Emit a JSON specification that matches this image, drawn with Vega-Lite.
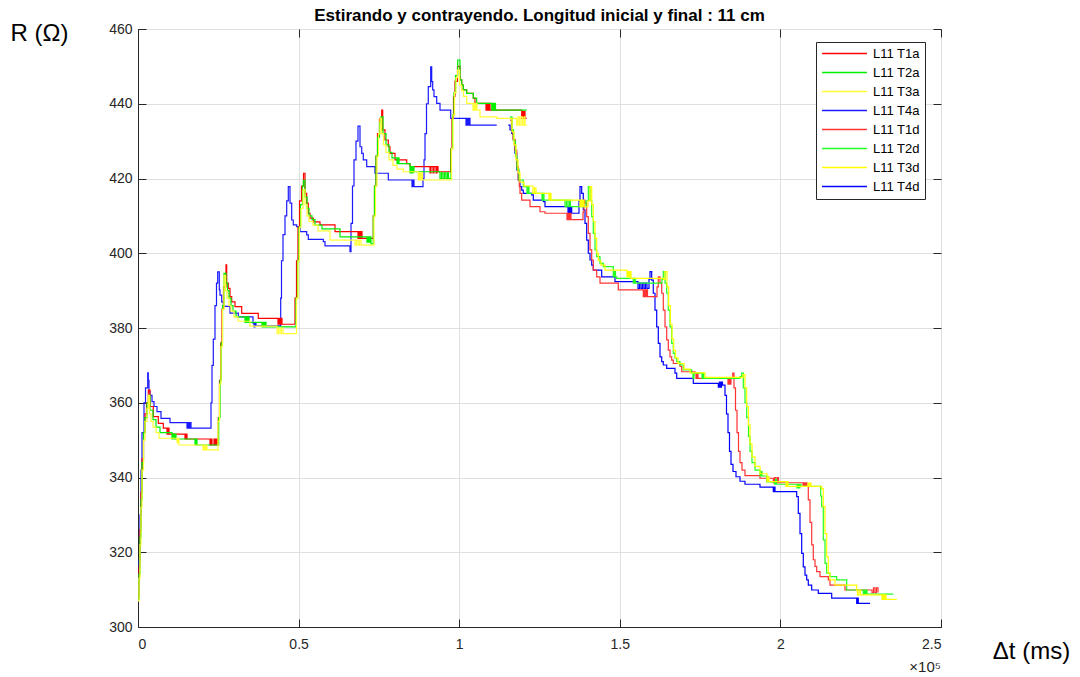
{
"$schema":"https://vega.github.io/schema/vega-lite/v6.json",
"autosize":"none",
"width":803,"height":598,
"padding":{"left":138,"top":29,"right":139,"bottom":50},
"background":"white",
"title":{"text":"Estirando y contrayendo. Longitud inicial y final : 11 cm","fontSize":17,"fontWeight":"bold","color":"#000000","anchor":"middle","offset":-3,"baseline":"alphabetic","dy":14},
"config":{"font":"Liberation Sans","view":{"stroke":"#262626","strokeWidth":1},
"axis":{"domainColor":"#262626","tickColor":"#262626","labelColor":"#262626","labelFontSize":14,"gridColor":"#dfdfdf","tickSize":-8,"labelPadding":14,"titleFontWeight":"normal","titleColor":"#000000","titleFontSize":24},
"legend":{"orient":"none","legendX":678,"legendY":13,"symbolType":"M-4,0L4,0","symbolSize":126,"symbolOffset":17,"symbolStrokeWidth":1.5,"labelFontSize":13,"labelColor":"#000000","strokeColor":"#262626","fillColor":"white","padding":5,"rowPadding":5,"labelOffset":22,"labelLimit":0}},
"resolve":{"axis":{"x":"independent","y":"independent"}},
"layer":[
{"data":{"values":[
{"s":"T4a","t":0,"R":310},{"s":"T4a","t":311,"R":318},{"s":"T4a","t":623,"R":330},{"s":"T4a","t":934,"R":342},{"s":"T4a","t":1245,"R":352},{"s":"T4a","t":1868,"R":360},{"s":"T4a","t":2335,"R":364},{"s":"T4a","t":3020,"R":368},{"s":"T4a","t":3207,"R":366},{"s":"T4a","t":3425,"R":363},{"s":"T4a","t":3736,"R":362},{"s":"T4a","t":4359,"R":360.3},{"s":"T4a","t":4981,"R":359},{"s":"T4a","t":5915,"R":357.6},{"s":"T4a","t":7161,"R":355.8},{"s":"T4a","t":9963,"R":354.7},{"s":"T4a","t":15255,"R":353.2},{"s":"T4a","t":15567,"R":354.7},{"s":"T4a","t":15878,"R":353.2},{"s":"T4a","t":16189,"R":354.7},{"s":"T4a","t":16500,"R":353.2},{"s":"T4a","t":22727,"R":360},{"s":"T4a","t":23038,"R":370},{"s":"T4a","t":23443,"R":377},{"s":"T4a","t":23972,"R":386},{"s":"T4a","t":24439,"R":392},{"s":"T4a","t":24813,"R":395},{"s":"T4a","t":25311,"R":390.2},{"s":"T4a","t":25529,"R":388.8},{"s":"T4a","t":26058,"R":387},{"s":"T4a","t":26556,"R":385.8},{"s":"T4a","t":28642,"R":384},{"s":"T4a","t":31226,"R":383},{"s":"T4a","t":35803,"R":381.3},{"s":"T4a","t":36114,"R":380.3},{"s":"T4a","t":36426,"R":381.3},{"s":"T4a","t":36737,"R":380.6},{"s":"T4a","t":44427,"R":388},{"s":"T4a","t":44676,"R":398},{"s":"T4a","t":45143,"R":405},{"s":"T4a","t":45766,"R":410},{"s":"T4a","t":46295,"R":414},{"s":"T4a","t":46793,"R":417.8},{"s":"T4a","t":47322,"R":413.4},{"s":"T4a","t":47851,"R":408.9},{"s":"T4a","t":48350,"R":407.6},{"s":"T4a","t":49408,"R":407.1},{"s":"T4a","t":50435,"R":405.8},{"s":"T4a","t":52521,"R":404.9},{"s":"T4a","t":53020,"R":403.7},{"s":"T4a","t":57689,"R":403.1},{"s":"T4a","t":58219,"R":402},{"s":"T4a","t":66002,"R":400.4},{"s":"T4a","t":66313,"R":408},{"s":"T4a","t":66780,"R":418},{"s":"T4a","t":67247,"R":425},{"s":"T4a","t":67870,"R":430},{"s":"T4a","t":68493,"R":434},{"s":"T4a","t":69115,"R":428.5},{"s":"T4a","t":69645,"R":426.7},{"s":"T4a","t":70143,"R":425},{"s":"T4a","t":71201,"R":423.2},{"s":"T4a","t":73785,"R":421.4},{"s":"T4a","t":77926,"R":419.6},{"s":"T4a","t":85304,"R":417.8},{"s":"T4a","t":85616,"R":419.6},{"s":"T4a","t":85927,"R":417.8},{"s":"T4a","t":88729,"R":420},{"s":"T4a","t":89040,"R":425},{"s":"T4a","t":89352,"R":432},{"s":"T4a","t":89819,"R":440},{"s":"T4a","t":90379,"R":444.6},{"s":"T4a","t":91126,"R":449.9},{"s":"T4a","t":91438,"R":445.9},{"s":"T4a","t":91749,"R":443.7},{"s":"T4a","t":92154,"R":441.9},{"s":"T4a","t":92994,"R":440.1},{"s":"T4a","t":94022,"R":438.3},{"s":"T4a","t":97353,"R":436.1},{"s":"T4a","t":102116,"R":434.3},{"s":"T4a","t":102428,"R":436.1},{"s":"T4a","t":102739,"R":434.3},{"s":"T4a","t":103050,"R":436.1},{"s":"T4a","t":103362,"R":434.3},{"s":"T4a","t":111674,"R":434.3},
{"s":"T1a","t":0,"R":308},{"s":"T1a","t":311,"R":316},{"s":"T1a","t":623,"R":326},{"s":"T1a","t":934,"R":336},{"s":"T1a","t":1245,"R":345},{"s":"T1a","t":1712,"R":352},{"s":"T1a","t":2179,"R":357},{"s":"T1a","t":2646,"R":360},{"s":"T1a","t":3207,"R":363.4},{"s":"T1a","t":3736,"R":359},{"s":"T1a","t":4763,"R":356.3},{"s":"T1a","t":6320,"R":354.5},{"s":"T1a","t":7877,"R":353.2},{"s":"T1a","t":9029,"R":351.6},{"s":"T1a","t":9340,"R":353.2},{"s":"T1a","t":9651,"R":351.6},{"s":"T1a","t":14633,"R":350.3},{"s":"T1a","t":14944,"R":351.6},{"s":"T1a","t":15255,"R":350.3},{"s":"T1a","t":22416,"R":348.7},{"s":"T1a","t":22727,"R":350.3},{"s":"T1a","t":23038,"R":348.7},{"s":"T1a","t":23661,"R":350.3},{"s":"T1a","t":23972,"R":348.7},{"s":"T1a","t":24284,"R":350.3},{"s":"T1a","t":24595,"R":348.7},{"s":"T1a","t":25000,"R":356},{"s":"T1a","t":25373,"R":366},{"s":"T1a","t":25747,"R":376},{"s":"T1a","t":26152,"R":385},{"s":"T1a","t":26619,"R":391},{"s":"T1a","t":27397,"R":396.9},{"s":"T1a","t":27615,"R":392},{"s":"T1a","t":28113,"R":390.6},{"s":"T1a","t":28642,"R":388.4},{"s":"T1a","t":29172,"R":387},{"s":"T1a","t":30199,"R":385.7},{"s":"T1a","t":32285,"R":383.9},{"s":"T1a","t":37453,"R":382.6},{"s":"T1a","t":43586,"R":381},{"s":"T1a","t":43898,"R":382.6},{"s":"T1a","t":44209,"R":381},{"s":"T1a","t":44520,"R":382.6},{"s":"T1a","t":44832,"R":381},{"s":"T1a","t":48879,"R":388},{"s":"T1a","t":49346,"R":398},{"s":"T1a","t":49813,"R":407},{"s":"T1a","t":50280,"R":414},{"s":"T1a","t":50902,"R":418},{"s":"T1a","t":51525,"R":421.4},{"s":"T1a","t":51992,"R":416},{"s":"T1a","t":52521,"R":413.4},{"s":"T1a","t":53020,"R":410.7},{"s":"T1a","t":53549,"R":409.4},{"s":"T1a","t":54576,"R":408.4},{"s":"T1a","t":56662,"R":407.6},{"s":"T1a","t":61332,"R":405.8},{"s":"T1a","t":68493,"R":404},{"s":"T1a","t":68804,"R":405.8},{"s":"T1a","t":69115,"R":404},{"s":"T1a","t":69427,"R":405.8},{"s":"T1a","t":69738,"R":404},{"s":"T1a","t":73256,"R":410},{"s":"T1a","t":73630,"R":418},{"s":"T1a","t":74097,"R":426},{"s":"T1a","t":74564,"R":432},{"s":"T1a","t":75186,"R":436},{"s":"T1a","t":75871,"R":438.3},{"s":"T1a","t":76182,"R":433},{"s":"T1a","t":76899,"R":430.3},{"s":"T1a","t":77926,"R":428.5},{"s":"T1a","t":78455,"R":426.7},{"s":"T1a","t":80012,"R":425},{"s":"T1a","t":83654,"R":424},{"s":"T1a","t":84682,"R":423.2},{"s":"T1a","t":90908,"R":421.5},{"s":"T1a","t":91220,"R":423.2},{"s":"T1a","t":91842,"R":421.5},{"s":"T1a","t":92154,"R":423.2},{"s":"T1a","t":92776,"R":421.5},{"s":"T1a","t":93088,"R":423.2},{"s":"T1a","t":93399,"R":421.8},{"s":"T1a","t":97353,"R":428},{"s":"T1a","t":97758,"R":436},{"s":"T1a","t":98225,"R":442},{"s":"T1a","t":98692,"R":446},{"s":"T1a","t":99470,"R":450},{"s":"T1a","t":100248,"R":446.4},{"s":"T1a","t":100777,"R":445},{"s":"T1a","t":101276,"R":443.7},{"s":"T1a","t":102334,"R":442.8},{"s":"T1a","t":104389,"R":441.5},{"s":"T1a","t":104918,"R":440.1},{"s":"T1a","t":108343,"R":438.3},{"s":"T1a","t":108654,"R":440.1},{"s":"T1a","t":108966,"R":438.3},{"s":"T1a","t":109277,"R":440.1},{"s":"T1a","t":109588,"R":438.3},{"s":"T1a","t":119457,"R":436.1},{"s":"T1a","t":119706,"R":437.9},{"s":"T1a","t":119955,"R":436.1},{"s":"T1a","t":120173,"R":437.9},{"s":"T1a","t":120485,"R":436.1},{"s":"T1a","t":121014,"R":436.1},
{"s":"T2a","t":0,"R":307.5},{"s":"T2a","t":311,"R":314},{"s":"T2a","t":623,"R":324},{"s":"T2a","t":934,"R":334},{"s":"T2a","t":1245,"R":344},{"s":"T2a","t":1712,"R":352},{"s":"T2a","t":2179,"R":356},{"s":"T2a","t":2802,"R":360},{"s":"T2a","t":3269,"R":362},{"s":"T2a","t":3736,"R":358},{"s":"T2a","t":4670,"R":355.5},{"s":"T2a","t":5604,"R":353.5},{"s":"T2a","t":6849,"R":352},{"s":"T2a","t":10585,"R":350.3},{"s":"T2a","t":10897,"R":351.6},{"s":"T2a","t":11208,"R":350.3},{"s":"T2a","t":11519,"R":351.6},{"s":"T2a","t":11831,"R":350.3},{"s":"T2a","t":17746,"R":348.7},{"s":"T2a","t":18057,"R":350.3},{"s":"T2a","t":18368,"R":348.7},{"s":"T2a","t":25124,"R":356},{"s":"T2a","t":25529,"R":366},{"s":"T2a","t":25903,"R":376},{"s":"T2a","t":26307,"R":386},{"s":"T2a","t":26774,"R":394.6},{"s":"T2a","t":27397,"R":392},{"s":"T2a","t":27864,"R":390},{"s":"T2a","t":28331,"R":388},{"s":"T2a","t":28954,"R":386},{"s":"T2a","t":29576,"R":384.5},{"s":"T2a","t":30510,"R":383},{"s":"T2a","t":33312,"R":381.5},{"s":"T2a","t":33624,"R":383},{"s":"T2a","t":33935,"R":381.5},{"s":"T2a","t":34246,"R":383},{"s":"T2a","t":34558,"R":381.5},{"s":"T2a","t":38605,"R":380.3},{"s":"T2a","t":38916,"R":381.5},{"s":"T2a","t":39228,"R":380.3},{"s":"T2a","t":39539,"R":381.5},{"s":"T2a","t":39850,"R":380.3},{"s":"T2a","t":49190,"R":388},{"s":"T2a","t":49657,"R":398},{"s":"T2a","t":50124,"R":407},{"s":"T2a","t":50591,"R":413},{"s":"T2a","t":51214,"R":418},{"s":"T2a","t":51463,"R":419.5},{"s":"T2a","t":51992,"R":415},{"s":"T2a","t":52615,"R":412},{"s":"T2a","t":53237,"R":410},{"s":"T2a","t":54171,"R":409},{"s":"T2a","t":55105,"R":407.5},{"s":"T2a","t":57285,"R":406.5},{"s":"T2a","t":62889,"R":404.4},{"s":"T2a","t":71295,"R":403},{"s":"T2a","t":71606,"R":404.4},{"s":"T2a","t":71917,"R":403},{"s":"T2a","t":72229,"R":404.4},{"s":"T2a","t":72540,"R":402.5},{"s":"T2a","t":73256,"R":410},{"s":"T2a","t":73630,"R":418},{"s":"T2a","t":74097,"R":426},{"s":"T2a","t":74564,"R":431},{"s":"T2a","t":75186,"R":435},{"s":"T2a","t":75653,"R":436.5},{"s":"T2a","t":76276,"R":432},{"s":"T2a","t":77210,"R":429},{"s":"T2a","t":78144,"R":427},{"s":"T2a","t":79078,"R":425.5},{"s":"T2a","t":80634,"R":424},{"s":"T2a","t":80946,"R":425.5},{"s":"T2a","t":81257,"R":424},{"s":"T2a","t":84682,"R":421.5},{"s":"T2a","t":84993,"R":423.2},{"s":"T2a","t":85304,"R":421.5},{"s":"T2a","t":85616,"R":423.2},{"s":"T2a","t":85927,"R":421.8},{"s":"T2a","t":94022,"R":420},{"s":"T2a","t":94489,"R":421.5},{"s":"T2a","t":94956,"R":420},{"s":"T2a","t":95423,"R":421.5},{"s":"T2a","t":95890,"R":420},{"s":"T2a","t":96357,"R":421.5},{"s":"T2a","t":96668,"R":420},{"s":"T2a","t":97446,"R":428},{"s":"T2a","t":97913,"R":437},{"s":"T2a","t":98380,"R":443},{"s":"T2a","t":98847,"R":447.5},{"s":"T2a","t":99532,"R":451.7},{"s":"T2a","t":100248,"R":446.4},{"s":"T2a","t":100777,"R":445},{"s":"T2a","t":101276,"R":443.7},{"s":"T2a","t":102334,"R":442.8},{"s":"T2a","t":104389,"R":441.5},{"s":"T2a","t":105448,"R":440.1},{"s":"T2a","t":110118,"R":438.3},{"s":"T2a","t":110366,"R":440.1},{"s":"T2a","t":110678,"R":438.3},{"s":"T2a","t":110989,"R":440.1},{"s":"T2a","t":111301,"R":438.3},{"s":"T2a","t":121014,"R":438.3},
{"s":"T3a","t":0,"R":307},{"s":"T3a","t":311,"R":313},{"s":"T3a","t":623,"R":322},{"s":"T3a","t":934,"R":332},{"s":"T3a","t":1245,"R":342},{"s":"T3a","t":1712,"R":350},{"s":"T3a","t":2179,"R":355},{"s":"T3a","t":2802,"R":358.5},{"s":"T3a","t":3207,"R":362},{"s":"T3a","t":3580,"R":357},{"s":"T3a","t":4047,"R":355},{"s":"T3a","t":4670,"R":353.5},{"s":"T3a","t":5604,"R":352},{"s":"T3a","t":6538,"R":350.5},{"s":"T3a","t":12142,"R":349.3},{"s":"T3a","t":12453,"R":350.5},{"s":"T3a","t":12765,"R":348.7},{"s":"T3a","t":20236,"R":347.4},{"s":"T3a","t":20548,"R":348.7},{"s":"T3a","t":20859,"R":347.4},{"s":"T3a","t":21170,"R":348.7},{"s":"T3a","t":21482,"R":347.4},{"s":"T3a","t":24906,"R":355},{"s":"T3a","t":25373,"R":365},{"s":"T3a","t":25840,"R":375},{"s":"T3a","t":26307,"R":385},{"s":"T3a","t":26774,"R":394},{"s":"T3a","t":27241,"R":390},{"s":"T3a","t":27708,"R":388},{"s":"T3a","t":28331,"R":386},{"s":"T3a","t":28954,"R":384.5},{"s":"T3a","t":29888,"R":383},{"s":"T3a","t":31133,"R":381.8},{"s":"T3a","t":34869,"R":380.5},{"s":"T3a","t":43275,"R":378.5},{"s":"T3a","t":43742,"R":380},{"s":"T3a","t":44209,"R":378.5},{"s":"T3a","t":44676,"R":380},{"s":"T3a","t":45143,"R":378.5},{"s":"T3a","t":49346,"R":388},{"s":"T3a","t":49813,"R":398},{"s":"T3a","t":50280,"R":407},{"s":"T3a","t":50747,"R":412},{"s":"T3a","t":51369,"R":417},{"s":"T3a","t":51992,"R":413},{"s":"T3a","t":52615,"R":410},{"s":"T3a","t":53237,"R":408.5},{"s":"T3a","t":54483,"R":407.5},{"s":"T3a","t":56039,"R":406},{"s":"T3a","t":59775,"R":403.5},{"s":"T3a","t":67559,"R":402.2},{"s":"T3a","t":68026,"R":403.5},{"s":"T3a","t":68493,"R":402.2},{"s":"T3a","t":68960,"R":403.5},{"s":"T3a","t":69427,"R":402.2},{"s":"T3a","t":73474,"R":410},{"s":"T3a","t":73941,"R":418},{"s":"T3a","t":74408,"R":426},{"s":"T3a","t":74875,"R":432},{"s":"T3a","t":75342,"R":436.1},{"s":"T3a","t":75809,"R":432},{"s":"T3a","t":76431,"R":429},{"s":"T3a","t":77210,"R":427},{"s":"T3a","t":78144,"R":425},{"s":"T3a","t":79389,"R":423.5},{"s":"T3a","t":80634,"R":422.5},{"s":"T3a","t":82596,"R":421.8},{"s":"T3a","t":87266,"R":419.6},{"s":"T3a","t":87639,"R":421.5},{"s":"T3a","t":87951,"R":419.6},{"s":"T3a","t":88262,"R":421.5},{"s":"T3a","t":88573,"R":419.6},{"s":"T3a","t":97602,"R":428},{"s":"T3a","t":98069,"R":437},{"s":"T3a","t":98536,"R":443},{"s":"T3a","t":99003,"R":447},{"s":"T3a","t":99470,"R":449},{"s":"T3a","t":100093,"R":445},{"s":"T3a","t":100715,"R":443.5},{"s":"T3a","t":101338,"R":442},{"s":"T3a","t":102334,"R":440.1},{"s":"T3a","t":104296,"R":438.3},{"s":"T3a","t":104607,"R":440.1},{"s":"T3a","t":104918,"R":438.3},{"s":"T3a","t":105230,"R":440.1},{"s":"T3a","t":105541,"R":438.3},{"s":"T3a","t":106475,"R":436.5},{"s":"T3a","t":111674,"R":436.1},{"s":"T3a","t":117900,"R":434.3},{"s":"T3a","t":118305,"R":436.5},{"s":"T3a","t":118772,"R":434.3},{"s":"T3a","t":119239,"R":436.5},{"s":"T3a","t":119706,"R":434.3},{"s":"T3a","t":120173,"R":436.5},{"s":"T3a","t":120485,"R":434.3},{"s":"T3a","t":121014,"R":434.3},
{"s":"T4d","t":115285,"R":434.3},{"s":"T4d","t":115815,"R":433},{"s":"T4d","t":116344,"R":432.1},{"s":"T4d","t":116842,"R":430.3},{"s":"T4d","t":117371,"R":426.7},{"s":"T4d","t":117900,"R":422.3},{"s":"T4d","t":118399,"R":419.6},{"s":"T4d","t":118928,"R":417.8},{"s":"T4d","t":119457,"R":416.9},{"s":"T4d","t":119955,"R":416},{"s":"T4d","t":122571,"R":415.6},{"s":"T4d","t":123069,"R":414.2},{"s":"T4d","t":126182,"R":413.8},{"s":"T4d","t":126711,"R":412.5},{"s":"T4d","t":133872,"R":410.7},{"s":"T4d","t":134183,"R":412.2},{"s":"T4d","t":134495,"R":410.7},{"s":"T4d","t":134806,"R":412.2},{"s":"T4d","t":135024,"R":410.7},{"s":"T4d","t":137297,"R":414},{"s":"T4d","t":137608,"R":417.8},{"s":"T4d","t":138137,"R":416},{"s":"T4d","t":138636,"R":411.6},{"s":"T4d","t":139165,"R":408},{"s":"T4d","t":139694,"R":403.5},{"s":"T4d","t":140193,"R":400},{"s":"T4d","t":140721,"R":398.2},{"s":"T4d","t":141250,"R":396.8},{"s":"T4d","t":141749,"R":395.5},{"s":"T4d","t":144364,"R":393.7},{"s":"T4d","t":148504,"R":392.4},{"s":"T4d","t":155665,"R":390.6},{"s":"T4d","t":156132,"R":392},{"s":"T4d","t":156599,"R":390.6},{"s":"T4d","t":157066,"R":392},{"s":"T4d","t":157533,"R":390.6},{"s":"T4d","t":158000,"R":392},{"s":"T4d","t":158467,"R":390.6},{"s":"T4d","t":159090,"R":393},{"s":"T4d","t":159401,"R":395.1},{"s":"T4d","t":159930,"R":392.8},{"s":"T4d","t":160429,"R":389.3},{"s":"T4d","t":160958,"R":384.8},{"s":"T4d","t":161488,"R":380.3},{"s":"T4d","t":161986,"R":375.9},{"s":"T4d","t":162514,"R":372.3},{"s":"T4d","t":163044,"R":371},{"s":"T4d","t":163543,"R":370.1},{"s":"T4d","t":164601,"R":369.2},{"s":"T4d","t":167184,"R":367.9},{"s":"T4d","t":167714,"R":366.5},{"s":"T4d","t":172882,"R":365.2},{"s":"T4d","t":180667,"R":364.2},{"s":"T4d","t":181040,"R":365.5},{"s":"T4d","t":181352,"R":364.2},{"s":"T4d","t":181663,"R":365.5},{"s":"T4d","t":181974,"R":364.7},{"s":"T4d","t":182751,"R":362},{"s":"T4d","t":183218,"R":357},{"s":"T4d","t":183685,"R":352},{"s":"T4d","t":184152,"R":347},{"s":"T4d","t":184619,"R":343.5},{"s":"T4d","t":185241,"R":341.6},{"s":"T4d","t":186175,"R":340.2},{"s":"T4d","t":187421,"R":339},{"s":"T4d","t":188977,"R":338.2},{"s":"T4d","t":193647,"R":337.4},{"s":"T4d","t":197788,"R":336.2},{"s":"T4d","t":198006,"R":337.4},{"s":"T4d","t":198317,"R":336.2},{"s":"T4d","t":205073,"R":334.9},{"s":"T4d","t":205571,"R":330.4},{"s":"T4d","t":206100,"R":325},{"s":"T4d","t":206629,"R":319.7},{"s":"T4d","t":207128,"R":316.1},{"s":"T4d","t":207657,"R":313.9},{"s":"T4d","t":208186,"R":312.6},{"s":"T4d","t":208685,"R":311.2},{"s":"T4d","t":209743,"R":309.9},{"s":"T4d","t":211798,"R":309},{"s":"T4d","t":215970,"R":307.7},{"s":"T4d","t":223753,"R":306.3},{"s":"T4d","t":224003,"R":307.7},{"s":"T4d","t":224252,"R":306.3},{"s":"T4d","t":227894,"R":306.3},
{"s":"T1d","t":115815,"R":435.6},{"s":"T1d","t":116282,"R":433},{"s":"T1d","t":116749,"R":430.5},{"s":"T1d","t":117371,"R":427.6},{"s":"T1d","t":117900,"R":423.2},{"s":"T1d","t":118399,"R":419.6},{"s":"T1d","t":118710,"R":417.8},{"s":"T1d","t":118928,"R":416},{"s":"T1d","t":119457,"R":414.2},{"s":"T1d","t":122041,"R":412.5},{"s":"T1d","t":125155,"R":411.1},{"s":"T1d","t":126711,"R":410.7},{"s":"T1d","t":133561,"R":409},{"s":"T1d","t":133872,"R":410.7},{"s":"T1d","t":134183,"R":409},{"s":"T1d","t":134495,"R":410.7},{"s":"T1d","t":134806,"R":409},{"s":"T1d","t":138542,"R":411},{"s":"T1d","t":138853,"R":414.2},{"s":"T1d","t":139165,"R":413.4},{"s":"T1d","t":139694,"R":409.8},{"s":"T1d","t":140193,"R":405.3},{"s":"T1d","t":140721,"R":400.9},{"s":"T1d","t":141250,"R":398.2},{"s":"T1d","t":141749,"R":395.5},{"s":"T1d","t":142807,"R":393.7},{"s":"T1d","t":143834,"R":392},{"s":"T1d","t":149532,"R":390.2},{"s":"T1d","t":157315,"R":388.4},{"s":"T1d","t":157689,"R":390.2},{"s":"T1d","t":158000,"R":388.4},{"s":"T1d","t":158311,"R":390.2},{"s":"T1d","t":158623,"R":388.4},{"s":"T1d","t":161580,"R":391},{"s":"T1d","t":161986,"R":393.7},{"s":"T1d","t":162514,"R":392},{"s":"T1d","t":163044,"R":389.3},{"s":"T1d","t":163543,"R":384.8},{"s":"T1d","t":164072,"R":380.3},{"s":"T1d","t":164601,"R":376.8},{"s":"T1d","t":165100,"R":374.1},{"s":"T1d","t":165628,"R":372.3},{"s":"T1d","t":166157,"R":371.4},{"s":"T1d","t":166657,"R":370.5},{"s":"T1d","t":168741,"R":369.7},{"s":"T1d","t":169270,"R":368.3},{"s":"T1d","t":173411,"R":367.9},{"s":"T1d","t":173722,"R":366.5},{"s":"T1d","t":174033,"R":367.9},{"s":"T1d","t":174345,"R":366.5},{"s":"T1d","t":183685,"R":365},{"s":"T1d","t":183996,"R":366.5},{"s":"T1d","t":184307,"R":365},{"s":"T1d","t":184619,"R":366.5},{"s":"T1d","t":185148,"R":367.9},{"s":"T1d","t":185553,"R":364},{"s":"T1d","t":186020,"R":358},{"s":"T1d","t":186487,"R":352},{"s":"T1d","t":186954,"R":347},{"s":"T1d","t":187421,"R":344},{"s":"T1d","t":188043,"R":342},{"s":"T1d","t":188977,"R":340.5},{"s":"T1d","t":193647,"R":339.8},{"s":"T1d","t":197788,"R":338.6},{"s":"T1d","t":198161,"R":340},{"s":"T1d","t":198629,"R":338.6},{"s":"T1d","t":199096,"R":340},{"s":"T1d","t":199407,"R":338.6},{"s":"T1d","t":207034,"R":337.6},{"s":"T1d","t":207346,"R":338.6},{"s":"T1d","t":207657,"R":337.6},{"s":"T1d","t":207968,"R":338.6},{"s":"T1d","t":208280,"R":337.6},{"s":"T1d","t":208685,"R":334},{"s":"T1d","t":209214,"R":328},{"s":"T1d","t":209743,"R":322},{"s":"T1d","t":210241,"R":318},{"s":"T1d","t":210771,"R":316.2},{"s":"T1d","t":211300,"R":314.8},{"s":"T1d","t":212327,"R":313.5},{"s":"T1d","t":214912,"R":312.6},{"s":"T1d","t":215440,"R":311.2},{"s":"T1d","t":220110,"R":309.9},{"s":"T1d","t":228516,"R":309.2},{"s":"T1d","t":228983,"R":310.5},{"s":"T1d","t":229450,"R":309.2},{"s":"T1d","t":229917,"R":310.5},{"s":"T1d","t":230384,"R":309.2},
{"s":"T2d","t":115815,"R":436.5},{"s":"T2d","t":116437,"R":433},{"s":"T2d","t":116904,"R":430},{"s":"T2d","t":117527,"R":426},{"s":"T2d","t":117994,"R":422.5},{"s":"T2d","t":118617,"R":419.6},{"s":"T2d","t":119955,"R":417.8},{"s":"T2d","t":121107,"R":416},{"s":"T2d","t":121418,"R":417.8},{"s":"T2d","t":121730,"R":416},{"s":"T2d","t":125777,"R":414.2},{"s":"T2d","t":126089,"R":416},{"s":"T2d","t":126400,"R":414.2},{"s":"T2d","t":132938,"R":412.5},{"s":"T2d","t":133405,"R":414.2},{"s":"T2d","t":133872,"R":412.5},{"s":"T2d","t":134339,"R":414.2},{"s":"T2d","t":134650,"R":412.5},{"s":"T2d","t":139476,"R":414},{"s":"T2d","t":140193,"R":417.8},{"s":"T2d","t":140721,"R":414.2},{"s":"T2d","t":141250,"R":409.8},{"s":"T2d","t":141749,"R":405.3},{"s":"T2d","t":142278,"R":400.9},{"s":"T2d","t":142807,"R":399.1},{"s":"T2d","t":143834,"R":397.3},{"s":"T2d","t":144862,"R":396.4},{"s":"T2d","t":147975,"R":393.7},{"s":"T2d","t":148349,"R":395.1},{"s":"T2d","t":148660,"R":393.7},{"s":"T2d","t":149034,"R":393.3},{"s":"T2d","t":154202,"R":392},{"s":"T2d","t":154575,"R":393.3},{"s":"T2d","t":154887,"R":392},{"s":"T2d","t":163138,"R":393},{"s":"T2d","t":163543,"R":395.1},{"s":"T2d","t":164072,"R":392},{"s":"T2d","t":164601,"R":389.3},{"s":"T2d","t":165100,"R":384.8},{"s":"T2d","t":165628,"R":380.3},{"s":"T2d","t":166157,"R":375.9},{"s":"T2d","t":166657,"R":373.2},{"s":"T2d","t":167184,"R":371.9},{"s":"T2d","t":167714,"R":371},{"s":"T2d","t":168741,"R":370.1},{"s":"T2d","t":169770,"R":368.8},{"s":"T2d","t":172382,"R":367.9},{"s":"T2d","t":172788,"R":366.5},{"s":"T2d","t":173099,"R":367.9},{"s":"T2d","t":175590,"R":366.5},{"s":"T2d","t":175901,"R":367.9},{"s":"T2d","t":176213,"R":366.5},{"s":"T2d","t":187421,"R":367},{"s":"T2d","t":187950,"R":367.9},{"s":"T2d","t":188448,"R":364},{"s":"T2d","t":188977,"R":360},{"s":"T2d","t":189507,"R":356},{"s":"T2d","t":190067,"R":351},{"s":"T2d","t":190534,"R":347},{"s":"T2d","t":191157,"R":344},{"s":"T2d","t":192091,"R":342},{"s":"T2d","t":193647,"R":340.4},{"s":"T2d","t":193958,"R":341.6},{"s":"T2d","t":194269,"R":340.4},{"s":"T2d","t":195733,"R":338.8},{"s":"T2d","t":195982,"R":340.2},{"s":"T2d","t":196232,"R":338.8},{"s":"T2d","t":198161,"R":338.2},{"s":"T2d","t":198473,"R":339.5},{"s":"T2d","t":198784,"R":338.2},{"s":"T2d","t":205166,"R":337.2},{"s":"T2d","t":205478,"R":338.2},{"s":"T2d","t":205789,"R":337.2},{"s":"T2d","t":206100,"R":338.2},{"s":"T2d","t":206412,"R":337.6},{"s":"T2d","t":212545,"R":335},{"s":"T2d","t":212856,"R":332.2},{"s":"T2d","t":213354,"R":323.3},{"s":"T2d","t":213884,"R":317},{"s":"T2d","t":214413,"R":314.4},{"s":"T2d","t":215440,"R":313.5},{"s":"T2d","t":217526,"R":312.6},{"s":"T2d","t":220640,"R":309.9},{"s":"T2d","t":225808,"R":308.8},{"s":"T2d","t":226182,"R":309.9},{"s":"T2d","t":226493,"R":308.8},{"s":"T2d","t":226804,"R":309.9},{"s":"T2d","t":226960,"R":308.8},{"s":"T2d","t":235148,"R":308.8},
{"s":"T3d","t":115815,"R":436},{"s":"T3d","t":116437,"R":432.5},{"s":"T3d","t":117060,"R":429},{"s":"T3d","t":117683,"R":425},{"s":"T3d","t":118305,"R":421.5},{"s":"T3d","t":118928,"R":419},{"s":"T3d","t":120173,"R":418},{"s":"T3d","t":122975,"R":416},{"s":"T3d","t":123442,"R":417.5},{"s":"T3d","t":123909,"R":416},{"s":"T3d","t":127957,"R":414.2},{"s":"T3d","t":128268,"R":416},{"s":"T3d","t":128579,"R":414.2},{"s":"T3d","t":137608,"R":412.5},{"s":"T3d","t":137919,"R":414.2},{"s":"T3d","t":138231,"R":412.5},{"s":"T3d","t":138542,"R":414.2},{"s":"T3d","t":138853,"R":412.5},{"s":"T3d","t":140099,"R":414},{"s":"T3d","t":140721,"R":417.8},{"s":"T3d","t":141250,"R":413},{"s":"T3d","t":141749,"R":408.5},{"s":"T3d","t":142278,"R":404},{"s":"T3d","t":142807,"R":400},{"s":"T3d","t":143305,"R":398},{"s":"T3d","t":144142,"R":396.8},{"s":"T3d","t":145391,"R":395.5},{"s":"T3d","t":152240,"R":393.7},{"s":"T3d","t":152552,"R":395.1},{"s":"T3d","t":152863,"R":393.7},{"s":"T3d","t":153174,"R":395.1},{"s":"T3d","t":153486,"R":393.3},{"s":"T3d","t":163606,"R":393},{"s":"T3d","t":164072,"R":395.1},{"s":"T3d","t":164694,"R":391},{"s":"T3d","t":165224,"R":386},{"s":"T3d","t":165722,"R":381},{"s":"T3d","t":166251,"R":377},{"s":"T3d","t":166780,"R":374},{"s":"T3d","t":167340,"R":372},{"s":"T3d","t":168118,"R":370.5},{"s":"T3d","t":169986,"R":369},{"s":"T3d","t":171854,"R":368},{"s":"T3d","t":176524,"R":366.8},{"s":"T3d","t":188043,"R":366.8},{"s":"T3d","t":188355,"R":367.5},{"s":"T3d","t":188977,"R":364},{"s":"T3d","t":189507,"R":359},{"s":"T3d","t":190067,"R":354},{"s":"T3d","t":190534,"R":349},{"s":"T3d","t":191157,"R":345.5},{"s":"T3d","t":192091,"R":343},{"s":"T3d","t":193647,"R":341},{"s":"T3d","t":195827,"R":338.9},{"s":"T3d","t":196138,"R":340.2},{"s":"T3d","t":196449,"R":338.9},{"s":"T3d","t":201742,"R":337.6},{"s":"T3d","t":202053,"R":338.9},{"s":"T3d","t":202365,"R":337.6},{"s":"T3d","t":208591,"R":338.5},{"s":"T3d","t":208902,"R":337.6},{"s":"T3d","t":209214,"R":338.5},{"s":"T3d","t":209525,"R":337.6},{"s":"T3d","t":212856,"R":337},{"s":"T3d","t":213354,"R":332.2},{"s":"T3d","t":213884,"R":325},{"s":"T3d","t":214413,"R":318.8},{"s":"T3d","t":214912,"R":314.4},{"s":"T3d","t":215440,"R":312.6},{"s":"T3d","t":216997,"R":311.2},{"s":"T3d","t":223753,"R":309.9},{"s":"T3d","t":224003,"R":308.6},{"s":"T3d","t":224470,"R":309.9},{"s":"T3d","t":224937,"R":308.6},{"s":"T3d","t":231630,"R":307.4},{"s":"T3d","t":231941,"R":308.6},{"s":"T3d","t":232252,"R":307.4},{"s":"T3d","t":232563,"R":308.6},{"s":"T3d","t":232874,"R":307.4},{"s":"T3d","t":236206,"R":307.4}
]},
"mark":{"type":"line","interpolate":"step-after","strokeWidth":1.2},
"encoding":{
"x":{"field":"t","type":"quantitative","scale":{"domain":[0,250000],"nice":false,"zero":false},
 "axis":{"orient":"bottom","values":[0,50000,100000,150000,200000,250000],"labelExpr":"datum.value/100000","labelPadding":18,"grid":true,"title":"Δt (ms)","titleAngle":0,"titleAlign":"center","titleBaseline":"middle","titleX":893,"titleY":24}},
"y":{"field":"R","type":"quantitative","scale":{"domain":[300,460],"nice":false,"zero":false},
 "axis":{"orient":"left","values":[300,320,340,360,380,400,420,440,460],"grid":true,"title":"R (Ω)","titleAngle":0,"titleAlign":"center","titleBaseline":"middle","titleX":-99,"titleY":4}},
"color":{"field":"s","type":"nominal","scale":{"domain":["T1a","T2a","T3a","T4a","T1d","T2d","T3d","T4d"],"range":["#ff0000","#00ee00","#ffff33","#1a1aff","#ff3333","#22ff22","#ffff00","#0000ff"]},
 "legend":{"title":null,"labelExpr":"'L11 ' + datum.label"}},
"order":{"field":"t","type":"quantitative"}
}},
{"data":{"values":[{}]},
"mark":{"type":"text","align":"right","baseline":"middle","dy":40,"fontSize":15,"color":"#262626","text":"×10⁵"},
"encoding":{"x":{"datum":250000,"type":"quantitative","axis":null},"y":{"datum":300,"type":"quantitative","axis":null}}},
{"data":{"values":[{}]},
"mark":{"type":"point","opacity":0},
"encoding":{
"x":{"datum":0,"type":"quantitative","axis":{"orient":"top","values":[0,50000,100000,150000,200000,250000],"labels":false,"grid":false,"title":null,"domain":false}},
"y":{"datum":300,"type":"quantitative","axis":{"orient":"right","values":[300,320,340,360,380,400,420,440,460],"labels":false,"grid":false,"title":null,"domain":false}}}}
]
}
